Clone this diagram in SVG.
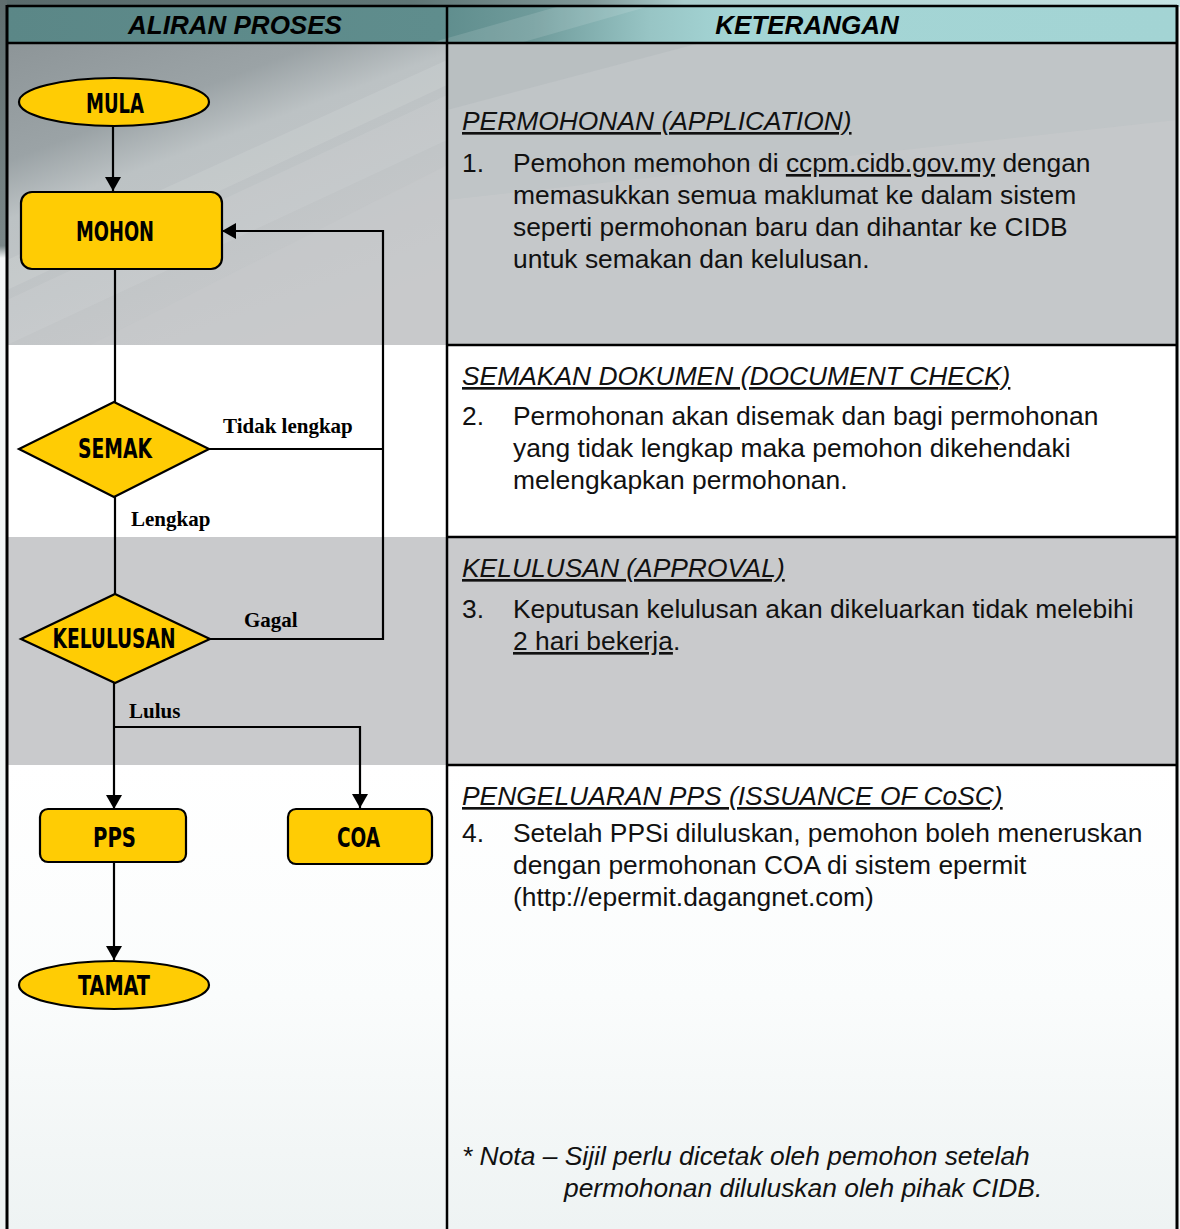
<svg xmlns="http://www.w3.org/2000/svg" width="1180" height="1229" viewBox="0 0 1180 1229">
  <defs>
    <linearGradient id="gTop" x1="0" y1="0" x2="1" y2="0">
      <stop offset="0" stop-color="#5a6b6c"/>
      <stop offset="0.35" stop-color="#5f7676"/>
      <stop offset="0.5" stop-color="#7f9898"/>
      <stop offset="0.58" stop-color="#a9cccc"/>
      <stop offset="1" stop-color="#c6e4e4"/>
    </linearGradient>
    <linearGradient id="gHead" x1="0" y1="0" x2="1" y2="0">
      <stop offset="0" stop-color="#5b8787"/>
      <stop offset="0.37" stop-color="#5f8d8d"/>
      <stop offset="0.45" stop-color="#6f9b9b"/>
      <stop offset="0.55" stop-color="#98c5c5"/>
      <stop offset="0.62" stop-color="#a4d5d5"/>
      <stop offset="1" stop-color="#a3d4d4"/>
    </linearGradient>
    <linearGradient id="gSec1" x1="0" y1="0" x2="0.55" y2="1">
      <stop offset="0" stop-color="#8d9598"/>
      <stop offset="0.3" stop-color="#9ba3a6"/>
      <stop offset="0.45" stop-color="#bcc2c4"/>
      <stop offset="1" stop-color="#c8c9cb"/>
    </linearGradient>
    <linearGradient id="gSec4" x1="0" y1="0" x2="0" y2="1">
      <stop offset="0" stop-color="#ffffff"/>
      <stop offset="0.5" stop-color="#fafcfc"/>
      <stop offset="1" stop-color="#eef3f3"/>
    </linearGradient>
    <linearGradient id="gLeft" x1="0" y1="0" x2="0" y2="1">
      <stop offset="0" stop-color="#5f6d6e"/>
      <stop offset="0.2" stop-color="#7a8788"/>
      <stop offset="0.21" stop-color="#f4f7f7"/>
      <stop offset="1" stop-color="#eef3f3"/>
    </linearGradient>
    <marker id="arr" markerUnits="userSpaceOnUse" markerWidth="16" markerHeight="16" refX="14" refY="8" orient="auto">
      <path d="M0,0 L14,8 L0,16 Z" fill="#000"/>
    </marker>
    <style>
      .node { fill: #ffcc04; stroke: #000; stroke-width: 2.2; }
      .nlabel { font-family: "Liberation Sans Narrow", "DejaVu Sans Condensed", "Roboto Condensed", sans-serif; font-weight: bold; font-size: 26px; fill: #000; text-anchor: middle; }
      .conn { fill: none; stroke: #000; stroke-width: 2.2; }
      .elabel { font-family: "Liberation Serif", "Times New Roman", serif; font-weight: bold; font-size: 21px; fill: #000; }
      .head { font-family: "Liberation Sans", Arial, sans-serif; font-weight: bold; font-style: italic; font-size: 26px; fill: #000; text-anchor: middle; }
      .body { font-family: "Liberation Sans", Arial, sans-serif; font-size: 26.4px; fill: #111; }
      .sub { font-family: "Liberation Sans", Arial, sans-serif; font-size: 26.4px; font-style: italic; fill: #111; text-decoration: underline; }
      .ul { text-decoration: underline; }
      .grid { stroke: #000; stroke-width: 2.5; fill: none; }
    </style>
  </defs>

  <!-- background -->
  <g id="background">
    <rect x="0" y="0" width="1180" height="1229" fill="#f2f6f6"/>
    <rect x="0" y="0" width="1180" height="7" fill="url(#gTop)"/>
    <rect x="0" y="0" width="7" height="1229" fill="url(#gLeft)"/>
    <rect x="7" y="6" width="1170" height="37" fill="url(#gHead)"/>
    <polygon points="430,43 560,6 650,6 520,43" fill="#ffffff" opacity="0.12"/>
    <!-- section 1 -->
    <rect x="7" y="43" width="440" height="302" fill="url(#gSec1)"/>
    <polygon points="7,300 447,95 447,140 7,345" fill="#ffffff" opacity="0.08"/>
    <polygon points="7,260 447,60 447,85 7,290" fill="#ffffff" opacity="0.1"/>
    <polygon points="90,345 447,165 447,345" fill="#c8c9cb" opacity="0.5"/>
    <rect x="447" y="43" width="730" height="302" fill="#c0c5c7"/>
    <polygon points="447,43 700,43 447,110" fill="#b6bdbf" opacity="0.8"/>
    <polygon points="447,200 1177,120 1177,345 447,345" fill="#c8c9cb" opacity="0.6"/>
    <!-- section 2 -->
    <rect x="7" y="345" width="1170" height="192" fill="#ffffff"/>
    <!-- section 3 -->
    <rect x="7" y="537" width="1170" height="228" fill="#c9cacc"/>
    <!-- section 4 -->
    <rect x="7" y="765" width="1170" height="464" fill="url(#gSec4)"/>
  </g>

  <!-- table grid -->
  <g id="grid" class="grid">
    <line x1="7" y1="6" x2="1177" y2="6"/>
    <line x1="7" y1="43" x2="1177" y2="43"/>
    <line x1="7" y1="5" x2="7" y2="1229" stroke-width="3"/>
    <line x1="1177" y1="5" x2="1177" y2="1229" stroke-width="3"/>
    <line x1="447" y1="6" x2="447" y2="1229"/>
    <line x1="447" y1="345" x2="1177" y2="345"/>
    <line x1="447" y1="537" x2="1177" y2="537"/>
    <line x1="447" y1="765" x2="1177" y2="765"/>
  </g>

  <!-- headers -->
  <g id="header-left">
    <text class="head" x="235" y="34">ALIRAN PROSES</text>
  </g>
  <g id="header-right">
    <text class="head" x="807" y="34">KETERANGAN</text>
  </g>

  <!-- connectors -->
  <g id="connectors">
    <line class="conn" x1="113" y1="126" x2="113" y2="191" marker-end="url(#arr)"/>
    <line class="conn" x1="115" y1="269" x2="115" y2="402"/>
    <line class="conn" x1="115" y1="497" x2="115" y2="594"/>
    <polyline class="conn" points="209,449 383,449"/>
    <polyline class="conn" points="210,639 383,639 383,231 222,231" marker-end="url(#arr)"/>
    <line class="conn" x1="114" y1="683" x2="114" y2="809" marker-end="url(#arr)"/>
    <polyline class="conn" points="114,727 360,727 360,808" marker-end="url(#arr)"/>
    <line class="conn" x1="114" y1="862" x2="114" y2="960" marker-end="url(#arr)"/>
    <text class="elabel" x="223" y="433">Tidak lengkap</text>
    <text class="elabel" x="131" y="526">Lengkap</text>
    <text class="elabel" x="244" y="627">Gagal</text>
    <text class="elabel" x="129" y="718">Lulus</text>
  </g>

  <!-- nodes -->
  <g id="node-mula">
    <ellipse class="node" cx="114" cy="102" rx="95" ry="24"/>
    <text class="nlabel" x="115" y="113" textLength="58" lengthAdjust="spacingAndGlyphs">MULA</text>
  </g>
  <g id="node-mohon">
    <rect class="node" x="21" y="192" width="201" height="77" rx="11"/>
    <text class="nlabel" x="115" y="241" textLength="78" lengthAdjust="spacingAndGlyphs">MOHON</text>
  </g>
  <g id="node-semak">
    <polygon class="node" points="114,402 209,449 114,497 19,449"/>
    <text class="nlabel" x="115" y="458" textLength="74" lengthAdjust="spacingAndGlyphs">SEMAK</text>
  </g>
  <g id="node-kelulusan">
    <polygon class="node" points="115,594 210,639 115,683 21,639"/>
    <text class="nlabel" x="114" y="648" textLength="123" lengthAdjust="spacingAndGlyphs">KELULUSAN</text>
  </g>
  <g id="node-pps">
    <rect class="node" x="40" y="809" width="146" height="53" rx="8"/>
    <text class="nlabel" x="114.5" y="847" textLength="43" lengthAdjust="spacingAndGlyphs">PPS</text>
  </g>
  <g id="node-coa">
    <rect class="node" x="288" y="809" width="144" height="55" rx="8"/>
    <text class="nlabel" x="358.5" y="847" textLength="43" lengthAdjust="spacingAndGlyphs">COA</text>
  </g>
  <g id="node-tamat">
    <ellipse class="node" cx="114" cy="985" rx="95" ry="24"/>
    <text class="nlabel" x="114" y="995" textLength="72" lengthAdjust="spacingAndGlyphs">TAMAT</text>
  </g>

  <!-- descriptions -->
  <g id="desc-1">
    <text class="sub" x="462" y="130">PERMOHONAN (APPLICATION)</text>
    <text class="body" x="462" y="172">1.</text>
    <text class="body" x="513" y="172">Pemohon memohon di <tspan class="ul">ccpm.cidb.gov.my</tspan> dengan</text>
    <text class="body" x="513" y="204">memasukkan semua maklumat ke dalam sistem</text>
    <text class="body" x="513" y="236">seperti permohonan baru dan dihantar ke CIDB</text>
    <text class="body" x="513" y="268">untuk semakan dan kelulusan.</text>
  </g>
  <g id="desc-2">
    <text class="sub" x="462" y="385">SEMAKAN DOKUMEN (DOCUMENT CHECK)</text>
    <text class="body" x="462" y="425">2.</text>
    <text class="body" x="513" y="425">Permohonan akan disemak dan bagi permohonan</text>
    <text class="body" x="513" y="457">yang tidak lengkap maka pemohon dikehendaki</text>
    <text class="body" x="513" y="489">melengkapkan permohonan.</text>
  </g>
  <g id="desc-3">
    <text class="sub" x="462" y="577">KELULUSAN (APPROVAL)</text>
    <text class="body" x="462" y="618">3.</text>
    <text class="body" x="513" y="618">Keputusan kelulusan akan dikeluarkan tidak melebihi</text>
    <text class="body" x="513" y="650"><tspan class="ul">2 hari bekerja</tspan>.</text>
  </g>
  <g id="desc-4">
    <text class="sub" x="462" y="805">PENGELUARAN PPS (ISSUANCE OF CoSC)</text>
    <text class="body" x="462" y="842">4.</text>
    <text class="body" x="513" y="842">Setelah PPSi diluluskan, pemohon boleh meneruskan</text>
    <text class="body" x="513" y="874">dengan permohonan COA di sistem epermit</text>
    <text class="body" x="513" y="906">(http://epermit.dagangnet.com)</text>
  </g>
  <g id="nota">
    <text class="body" x="462" y="1165" font-style="italic">* Nota – Sijil perlu dicetak oleh pemohon setelah</text>
    <text class="body" x="564" y="1197" font-style="italic">permohonan diluluskan oleh pihak CIDB.</text>
  </g>
</svg>
